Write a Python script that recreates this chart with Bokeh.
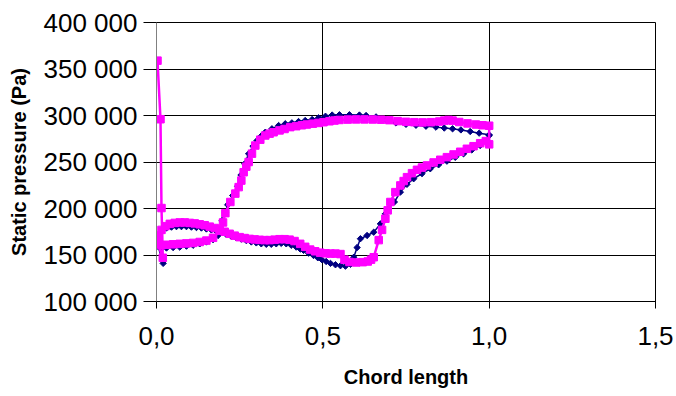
import numpy as np
from bokeh.plotting import figure
from bokeh.models import Range1d
from bokeh.embed import file_html
from bokeh.resources import INLINE

# ---- tick definitions ----
x_ticks = [0.0, 0.5, 1.0, 1.5]
x_tick_labels = ["0,0", "0,5", "1,0", "1,5"]
y_ticks = [100000, 150000, 200000, 250000, 300000, 350000, 400000]
y_tick_labels = ["100 000", "150 000", "200 000", "250 000", "300 000", "350 000", "400 000"]

# ---- series 1 (navy diamonds): leading edge -> side A -> trailing edge -> side B ----
navy_x = [0.020, 0.005, 0.015, 0.03, 0.05, 0.07, 0.09, 0.11, 0.13, 0.15, 0.17, 0.185,
          0.197, 0.207, 0.214, 0.229, 0.244, 0.254, 0.265, 0.277, 0.29, 0.302, 0.315, 0.327,
          0.347, 0.367, 0.387, 0.407, 0.427, 0.447, 0.468, 0.487, 0.508, 0.528, 0.55, 0.58,
          0.61, 0.63, 0.66, 0.69, 0.72, 0.75, 0.78, 0.81, 0.84, 0.865, 0.89, 0.915, 0.943,
          0.97, 1.0,
          1.0, 0.973, 0.948, 0.923, 0.898, 0.873, 0.848, 0.823, 0.798, 0.773, 0.753, 0.733,
          0.715, 0.698, 0.688, 0.673, 0.653, 0.633, 0.613, 0.603, 0.593, 0.583, 0.568, 0.553,
          0.538, 0.523, 0.51, 0.497, 0.485, 0.472, 0.457, 0.442, 0.432, 0.42, 0.405, 0.39,
          0.375, 0.36, 0.345, 0.33, 0.315, 0.30, 0.285, 0.27, 0.255, 0.24, 0.225, 0.21,
          0.195, 0.18, 0.165, 0.15, 0.135, 0.12, 0.105, 0.09, 0.075, 0.06, 0.045, 0.03,
          0.018, 0.008]
navy_y = [141000, 159000, 157000, 157500, 158000, 158500, 159500, 160500, 162000, 164000,
          166500, 171000, 187000, 196000, 204000, 214000, 224000, 236000, 248000, 258800,
          267000, 273000, 278000, 282000, 285700, 289200, 291100, 292100, 293500, 294600,
          295700, 297500, 299200, 300500, 300800, 300800, 300500, 300000, 298500, 295500,
          292000, 290500, 289500, 288500, 287500, 286500, 285700, 284500, 282800, 281000,
          279200,
          278500, 267800, 263000, 258800, 255000, 250900, 247000, 242700, 237500, 232000,
          226000, 217600, 207000, 200000, 194300, 183500, 174500, 171000, 167500, 158000,
          147600, 140000, 138000, 138500, 139500, 141000, 143000, 145000, 147000, 149500,
          152000, 155000, 156500, 158500, 160500, 162000, 162500, 162000, 161500, 161500,
          162000, 163000, 164000, 165500, 167000, 168500, 170000, 172000, 174000, 175500,
          177000, 178000, 179000, 179500, 180000, 180500, 180500, 180500, 180000, 179000,
          177000, 172000]

# ---- series 2 (magenta squares) ----
mag_x = [0.003, 0.012, 0.015, 0.019, 0.004, 0.015, 0.03, 0.05, 0.07, 0.09, 0.11, 0.13,
         0.15, 0.17, 0.19, 0.2, 0.207, 0.222, 0.237, 0.247, 0.255, 0.262, 0.27, 0.277,
         0.287, 0.297, 0.312, 0.327, 0.34, 0.352, 0.37, 0.385, 0.402, 0.42, 0.437, 0.452,
         0.47, 0.487, 0.502, 0.52, 0.535, 0.55, 0.575, 0.6, 0.625, 0.65, 0.675, 0.7, 0.725,
         0.75, 0.775, 0.8, 0.825, 0.85, 0.865, 0.878, 0.89, 0.91, 0.935, 0.96, 0.98, 1.0,
         1.0, 0.99, 0.973, 0.953, 0.933, 0.913, 0.893, 0.873, 0.853, 0.833, 0.813, 0.798,
         0.783, 0.768, 0.753, 0.743, 0.733, 0.718, 0.703, 0.695, 0.688, 0.678, 0.668, 0.653,
         0.645, 0.635, 0.62, 0.6, 0.58, 0.565, 0.553, 0.538, 0.523, 0.508, 0.492, 0.477,
         0.462, 0.447, 0.432, 0.415, 0.40, 0.385, 0.37, 0.355, 0.34, 0.325, 0.31, 0.295,
         0.28, 0.265, 0.25, 0.235, 0.22, 0.205, 0.19, 0.175, 0.16, 0.145, 0.13, 0.115, 0.1,
         0.085, 0.07, 0.055, 0.04, 0.027, 0.015, 0.007, 0.003]
mag_y = [359000, 296000, 200500, 147000, 162000, 160500, 161000, 161500, 162000, 162500,
         163000, 164000, 165500, 168500, 176000, 185000, 195000, 207000, 216000, 223000,
         230000, 239000, 245000, 250000, 259000, 267700, 274000, 278500, 280500, 282000,
         284000, 285500, 287500, 288500, 289500, 290300, 291200, 292000, 292800, 293800,
         294600, 295200, 295600, 295800, 295800, 295700, 295500, 295000, 294000, 293200,
         292800, 292600, 292800, 293500, 294500, 295200, 294500, 293000, 291500, 290300,
         289500, 289000,
         269000, 272500, 270200, 267000, 264200, 261000, 258100, 255200, 252400, 249500,
         246300, 244000, 241600, 238000, 233700, 229500, 224800, 217600, 207000, 198000,
         189000, 177000, 166000, 147600, 145000, 143000, 142300, 142000, 142500, 145000,
         151000, 151500, 151500, 151800, 152500, 154000, 155800, 158800, 162000, 165000,
         166500, 167000, 167000, 166500, 166000, 166000, 166300, 166800, 167300, 168200,
         169200, 170800, 172800, 175000, 177000, 179000, 180500, 182000, 183000, 184000,
         184500, 185000, 185000, 184500, 183500, 181000, 177000, 171000, 166000]

FONT = "Liberation Sans"

p = figure(width=676, height=396, output_backend="svg", toolbar_location=None,
           x_range=Range1d(0, 1.5), y_range=Range1d(100000, 400000),
           min_border_left=156, min_border_right=21, min_border_top=22,
           min_border_bottom=95)
p.background_fill_color = "white"
p.border_fill_color = "white"
p.outline_line_color = "#000000"
p.outline_line_width = 1

# grid
p.xgrid.grid_line_color = "#000000"
p.ygrid.grid_line_color = "#000000"
p.xgrid.grid_line_width = 1
p.ygrid.grid_line_width = 1

# x axis
p.xaxis.ticker = x_ticks
p.xaxis.major_label_overrides = dict(zip(x_ticks, x_tick_labels))
p.xaxis.axis_label = "Chord length"
p.xaxis.axis_line_color = "#000000"
p.xaxis.major_tick_line_color = "#000000"
p.xaxis.major_tick_in = 7
p.xaxis.major_tick_out = 7
p.xaxis.minor_tick_line_color = None
p.xaxis.major_label_standoff = 18
p.xaxis.axis_label_standoff = 18

# y axis
p.yaxis.ticker = y_ticks
p.yaxis.major_label_overrides = dict(zip(y_ticks, y_tick_labels))
p.yaxis.axis_label = "Static pressure (Pa)"
p.yaxis.axis_line_color = "#808080"
p.yaxis.major_tick_line_color = "#000000"
p.yaxis.major_tick_in = 0
p.yaxis.major_tick_out = 13
p.yaxis.minor_tick_line_color = None
p.yaxis.major_label_standoff = 6
p.yaxis.axis_label_standoff = 11

for ax in (p.xaxis, p.yaxis):
    ax.major_label_text_font = FONT
    ax.major_label_text_font_size = "26px"
    ax.major_label_text_color = "#000000"
    ax.axis_label_text_font = FONT
    ax.axis_label_text_font_size = "20px"
    ax.axis_label_text_font_style = "bold"
    ax.axis_label_text_color = "#000000"

# series 1
p.line(navy_x, navy_y, line_color="#000080", line_width=1.5)
p.scatter(navy_x, navy_y, marker="square", angle=np.pi / 4, size=4.5,
          fill_color="#000080", line_color="#000080")

# series 2
p.line(mag_x, mag_y, line_color="#FF00FF", line_width=2.5)
p.scatter(mag_x, mag_y, marker="square", size=7.5,
          fill_color="#FF00FF", line_color="#FF00FF")

open("out.html", "w").write(file_html(p, INLINE))
